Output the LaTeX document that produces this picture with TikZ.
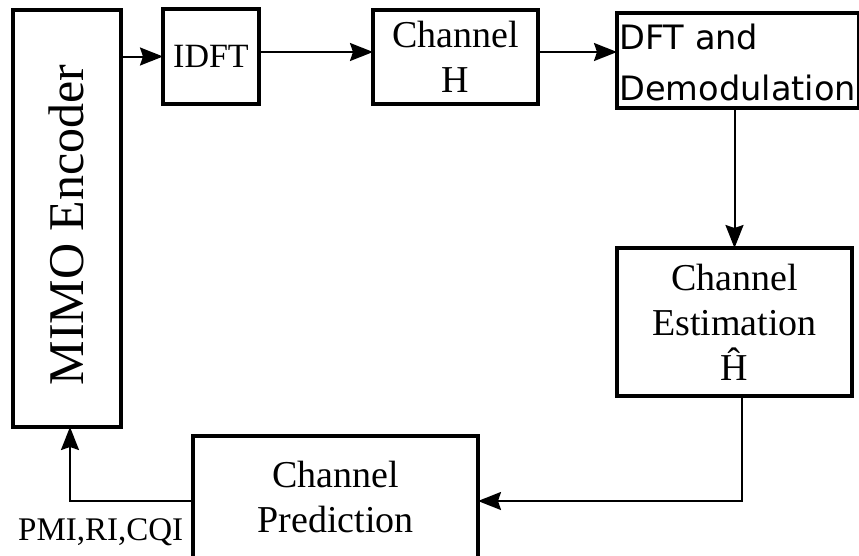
\documentclass[tikz,border=0pt]{standalone}
\usepackage{fontspec}
\setmainfont{Liberation Serif}
\newfontfamily\sansdv{DejaVu Sans}
\usetikzlibrary{arrows.meta}
\begin{document}
\begin{tikzpicture}[x=1pt,y=-1pt,
  blk/.style={draw, line width=3.5pt, inner sep=0pt, outer sep=0pt, anchor=north west},
  lbl/.style={font=\fontsize{38}{45}\selectfont, align=center, inner sep=0pt},
  flow/.style={line width=2pt, -{Stealth[length=23pt,width=18pt,inset=3pt]}}]
\useasboundingbox (0,0) rectangle (859,555);
\begin{scope}
\clip (0,0) rectangle (859,555);

% processing blocks
\node[blk, minimum width=108pt, minimum height=417pt] (enc) at (13,10) {};
\node[font=\fontsize{50}{60}\selectfont, rotate=90, inner sep=0pt] (enctext) at (66,225) {MIMO Encoder};

\node[blk, minimum width=96pt, minimum height=95pt, font=\fontsize{34}{40}\selectfont] (idft) at (163,9) {IDFT};

\node[blk, lbl, minimum width=165pt, minimum height=94pt] (chan) at (373,10) {Channel\\H};

\node[blk, minimum width=242pt, minimum height=95pt] (dft) at (617,13) {};
\node[font=\sansdv\fontsize{33.6}{51}\selectfont, align=left, inner sep=0pt, anchor=west] (dfttext) at (619,62) {DFT and\\Demodulation};

\node[blk, lbl, minimum width=235pt, minimum height=148pt] (est) at (617,248) {Channel\\Estimation\\Ĥ};

\node[blk, minimum width=285pt, minimum height=150pt] (pred) at (193,436) {};
\node[lbl] (predtext) at (335.5,497) {Channel\\Prediction};

\node[font=\fontsize{33}{40}\selectfont, inner sep=0pt, anchor=base west] (fb) at (18,540) {PMI,RI,CQI};

% signal rows
\coordinate (toprow) at (0,52);
\coordinate (looprow) at (0,501);

% connectors
\draw[flow] (idft.west -| enc.east) -- (idft.west);
\draw[flow] (idft.east |- toprow) -- (chan.west |- toprow);
\draw[flow] (chan.east |- toprow) -- (dft.west |- toprow);
\draw[flow] (est.north |- dft.south) -- (est.north);
\draw[flow] ([xshift=7pt]est.south) |- (pred.east |- looprow);
\draw[flow] (pred.west |- looprow) -| ([xshift=3pt]enc.south);
\end{scope}
\end{tikzpicture}
\end{document}
